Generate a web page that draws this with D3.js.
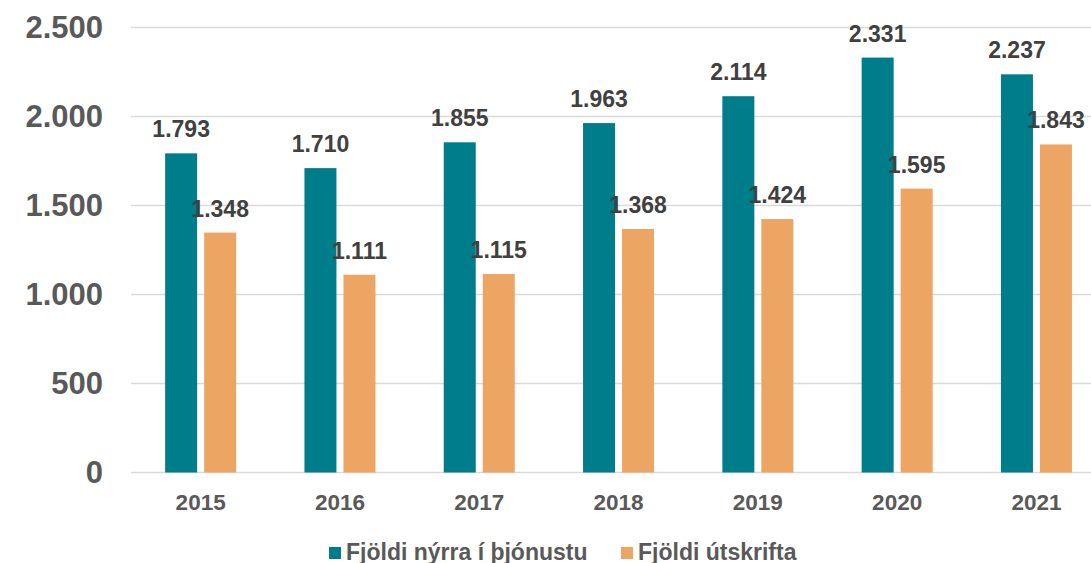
<!DOCTYPE html>
<html>
<head>
<meta charset="utf-8">
<script src="https://cdn.jsdelivr.net/npm/d3@7"></script>
<style>
  html, body { margin: 0; padding: 0; background: #fff; }
  svg { display: block; font-family: "Liberation Sans", Arial, sans-serif; font-weight: bold; }
</style>
</head>
<body>
<svg id="chart" width="1091" height="563"></svg>
<script>
const years = ["2015", "2016", "2017", "2018", "2019", "2020", "2021"];
const seriesNames = ["Fjöldi nýrra í þjónustu", "Fjöldi útskrifta"];
const newInService = [1793, 1710, 1855, 1963, 2114, 2331, 2237];
const discharges = [1348, 1111, 1115, 1368, 1424, 1595, 1843];
const yTicks = [0, 500, 1000, 1500, 2000, 2500];
const colors = ["#007D8A", "#EDA563"];

const seriesValues = [newInService, discharges];

const locale = d3.formatLocale({ decimal: ",", thousands: ".", grouping: [3], currency: ["", ""] });
const fmt = locale.format(",");

const svg = d3.select("#chart");

const plotLeft = 131, plotRight = 1091;
const step = 139.3;
const x0 = d3.scaleBand().domain(years).range([plotLeft, plotLeft + step * years.length]).padding(0);
const x1 = d3.scaleBand().domain([0, 1]).range([-35.5, 35.5]).paddingInner(7 / 39).paddingOuter(0);
const y = d3.scaleLinear().domain([0, 2500]).range([472.5, 27.5]);

// gridlines
svg.append("g").selectAll("line").data(yTicks).join("line")
  .attr("x1", plotLeft).attr("x2", plotRight)
  .attr("y1", d => y(d)).attr("y2", d => y(d))
  .attr("stroke", "#D9D9D9").attr("stroke-width", 1.5);

// y axis labels
const yAxis = d3.axisLeft(y).tickValues(yTicks).tickFormat(fmt).tickSize(0).tickPadding(0);
const ya = svg.append("g").attr("transform", "translate(103,0)").call(yAxis);
ya.select(".domain").remove();
ya.selectAll("text").attr("font-size", 31).attr("fill", "#595959")
  .attr("font-family", "Liberation Sans, Arial, sans-serif").attr("font-weight", "bold");

// x axis labels
const xAxis = d3.axisBottom(x0).tickSize(0).tickPadding(0);
const xa = svg.append("g").attr("transform", "translate(0,494)").call(xAxis);
xa.select(".domain").remove();
xa.selectAll("text").attr("font-size", 22.5).attr("fill", "#595959")
  .attr("font-family", "Liberation Sans, Arial, sans-serif").attr("font-weight", "bold");

// bars
const groups = svg.append("g").selectAll("g").data(years).join("g")
  .attr("transform", d => `translate(${x0(d) + x0.bandwidth() / 2},0)`);

seriesValues.forEach((vals, si) => {
  groups.append("rect")
    .attr("x", x1(si))
    .attr("width", x1.bandwidth())
    .attr("y", (d, i) => y(vals[i]))
    .attr("height", (d, i) => y(0) - y(vals[i]))
    .attr("fill", colors[si]);
  groups.append("text")
    .attr("x", x1(si) + x1.bandwidth() / 2)
    .attr("y", (d, i) => y(vals[i]) - 16)
    .attr("text-anchor", "middle")
    .attr("font-size", 23)
    .attr("fill", "#404040")
    .text((d, i) => fmt(vals[i]));
});

// legend
const legendPos = [329, 621];
const lg = svg.append("g");
seriesNames.forEach((name, i) => {
  lg.append("rect").attr("x", legendPos[i]).attr("y", 547).attr("width", 12).attr("height", 12).attr("fill", colors[i]);
  lg.append("text").attr("x", legendPos[i] + 17).attr("y", 559.5)
    .attr("font-size", 23).attr("fill", "#595959").text(name);
});
</script>
</body>
</html>
